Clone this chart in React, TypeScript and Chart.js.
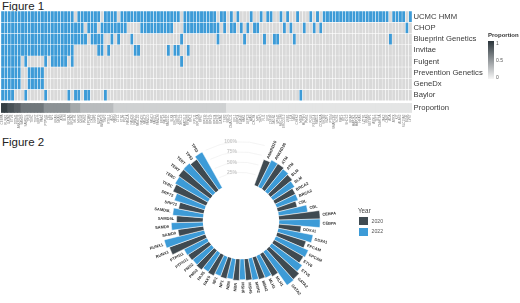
import React, { useEffect, useRef } from "react";
import { Chart, registerables } from "chart.js";

Chart.register(...registerables);

const FONT = "'Liberation Sans', Arial, sans-serif";
const BLUE = "#3d9bd7";
const GRAY = "#d9d9d9";
const DARK = "#3f4a51";

// ---------- Figure 1 data ----------
const labs = [
  "UCMC HMM",
  "CHOP",
  "Blueprint Genetics",
  "Invitae",
  "Fulgent",
  "Prevention Genetics",
  "GeneDx",
  "Baylor",
];

const panelGenes = [
  "CEBPA","RUNX1","GATA2","ETV6","DDX41","ANKRD26","SAMD9","SAMD9L","TP53","TERC",
  "TERT","SRP72","PAX5","PTPN11","CBL","NF1","KRAS","NRAS","ATM","BLM",
  "BRCA1","BRCA2","MLH1","MSH2","MSH6","PMS2","EPCAM","DKC1","NHP2","NOP10",
  "WRAP53","TINF2","RTEL1","ACD","PARN","CTC1","STN1","POT1","FANCA","FANCB",
  "FANCC","FANCD2","FANCE","FANCF","FANCG","FANCI","FANCL","FANCM","BRIP1","PALB2",
  "RAD51C","SLX4","ERCC4","UBE2T","XRCC2","MAD2L2","RFWD3","RPL5","RPL11","RPL35A",
  "RPS7","RPS10","RPS17","RPS19","RPS24","RPS26","GATA1","TSR2","SBDS","DNAJC21",
  "EFL1","SRP54","ELANE","HAX1","G6PC3","WAS","CXCR4","MPL","THPO","FLI1",
  "GFI1","CSF3R","JAGN1","VPS45","MECOM","ERCC6L2","USB1","LIG4","NBN","CHEK2",
  "MBD4","MUTYH","PMS1","POLE","RECQL4","RAD51","CDKN2A","SH2B3","IKZF1","PTEN",
  "SMARCB1","SOS1","RAF1","RIT1","SHOC2","BRAF","MAP2K1","MAP2K2","HRAS","LZTR1",
  "RRAS","SETBP1","ASXL1","TET2","DNMT3A","JAK2","CALR","ADA","ATRX","KIT",
  "ALAS2","SLC19A2","BLNK","LYST",
];

// column ranges (inclusive) where each lab's panel includes the gene
const ucmcHmm = [[0,21],[23,29],[31,34],[36,53],[55,64],[66,67],[69,69],[71,71],[75,75],[78,78],[80,81],[84,84],[86,86],[89,89],[93,93],[95,95],[97,116],[118,121],[123,123]];
const chop = [[0,24],[26,28],[30,37],[42,51],[55,65],[67,67],[69,70],[72,72],[74,74],[76,77],[85,85],[87,87],[91,91],[94,94],[96,96],[122,122]];
const blueprint = [[0,25],[27,30],[33,33],[35,35],[39,39],[54,54],[65,65],[73,73],[79,79],[82,83],[88,88],[117,117]];
const invitae = [[0,21],[29,30],[32,32],[40,41],[50,50],[52,53],[56,56]];
const fulgent = [[0,5],[7,7],[13,13],[15,19],[21,21],[54,54]];
const prevention = [[0,5],[8,12]];
const geneDx = [[0,5],[8,12]];
const baylor = [[0,3],[7,7],[13,13],[20,20],[22,23],[25,26],[31,31],[90,90]];
const labRanges = [ucmcHmm, chop, blueprint, invitae, fulgent, prevention, geneDx, baylor];

// proportion row, read per column from the picture
const proportion = [
  0.95,0.95,0.85,0.85,0.78,0.78,
  0.66,0.66,0.66,0.66,0.66,0.66,0.66,
  0.52,0.52,0.52,0.52,0.52,0.52,0.52,0.52,
  0.4,0.4,0.4,
  0.3,0.3,0.3,0.3,0.3,0.3,0.3,0.3,0.3,0.3,
  0.19,0.19,0.19,0.19,0.19,0.19,0.19,0.19,0.19,0.19,
  0.19,0.19,0.19,0.19,0.19,0.19,0.19,0.19,0.19,0.19,
  0.19,0.19,0.19,0.19,0.19,0.19,0.19,0.19,0.19,0.19,
  0.19,0.19,0.19,0.19,
  0.09,0.09,0.09,0.09,0.09,0.09,0.09,0.09,0.09,0.09,
  0.09,0.09,0.09,0.09,0.09,0.09,0.09,0.09,0.09,0.09,
  0.09,0.09,0.09,0.09,0.09,0.09,0.09,0.09,0.09,0.09,
  0.09,0.09,0.09,0.09,0.09,0.09,0.09,0.09,0.09,0.09,
  0.09,0.09,0.09,0.09,0.09,0.09,0.09,0.09,0.09,0.09,
  0.09,0.09,0.09,0.09,0.09,0.09,
];

// ---------- Figure 2 data ----------
const years = ["2020", "2022"];
const circGenes = [
  "ANKRD26","ATM","BLM","BRCA2","CBL","CEBPA","DDX41","EPCAM","ETV6","GATA2",
  "MLH1","MSH2","MSH6","NBN","NF1","PAX5","PMS2","PTPN11","RUNX1","SAMD9",
  "SAMD9L","SRP72","TERC","TERT","TP53",
];
const values2020 = [0.67,0.73,0.67,0.55,0.48,1.0,0.54,0.73,0.82,0.98,0.62,0.56,0.52,0.52,0.52,0.56,0.6,0.6,0.93,0.62,0.64,0.62,0.88,0.95,0.92];
const values2022 = [0.73,0.70,0.62,0.55,0.71,1.0,0.86,0.86,0.91,1.0,0.58,0.54,0.5,0.5,0.5,0.54,0.58,0.62,1.0,0.77,0.74,0.77,0.92,0.96,1.0];
const gapSlots = 8;
const radialTicks = [0.25, 0.5, 0.75, 1];

function mix(a: number[], b: number[], t: number) {
  const c = a.map((v, i) => Math.round(v + (b[i] - v) * t));
  return `rgb(${c[0]},${c[1]},${c[2]})`;
}
const LOW = [246, 246, 246];
const HIGH = [43, 53, 59];

export default function App() {
  const ref1 = useRef<HTMLCanvasElement>(null);
  const ref2 = useRef<HTMLCanvasElement>(null);

  useEffect(() => {
    const inRanges = (r: number[][], c: number) => r.some(([a, b]) => c >= a && c <= b);
    const rowTicks = [...labs.map((_, i) => i + 0.5), 8.65];
    const rowLabels = [...labs, "Proportion"];

    const heatSets: any[] = labRanges.map((ranges, r) => ({
      label: labs[r],
      data: panelGenes.map(() => [r, r + 1]),
      backgroundColor: panelGenes.map((_, c) => (inRanges(ranges, c) ? BLUE : GRAY)),
      borderColor: "#ffffff",
      borderWidth: 0.5,
      borderSkipped: false,
      grouped: false,
      categoryPercentage: 1,
      barPercentage: 1,
    }));
    heatSets.push({
      label: "Proportion",
      data: panelGenes.map(() => [8.25, 9.05]),
      backgroundColor: proportion.map((p) => mix(LOW, HIGH, p)),
      borderWidth: 0,
      grouped: false,
      categoryPercentage: 1,
      barPercentage: 1,
      inflateAmount: 0.4,
    });

    const c1 = new Chart(ref1.current!, {
      type: "bar",
      data: { labels: panelGenes, datasets: heatSets },
      options: {
        responsive: false,
        animation: false,
        events: [],
        layout: { padding: { left: 1, top: 11, right: 0, bottom: 0 } },
        plugins: { legend: { display: false }, tooltip: { enabled: false } },
        scales: {
          x: {
            type: "category",
            grid: { display: false, drawTicks: false },
            border: { display: false },
            ticks: {
              autoSkip: false,
              maxRotation: 90,
              minRotation: 90,
              padding: 1.5,
              color: "#7a7a7a",
              font: { family: FONT, size: 3 },
            },
            afterFit: (axis: any) => {
              axis.height = 22;
            },
          },
          y: {
            type: "linear",
            position: "right",
            reverse: true,
            min: 0,
            max: 9.1,
            grid: { display: false, drawTicks: false },
            border: { display: false },
            afterBuildTicks: (axis: any) => {
              axis.ticks = rowTicks.map((v) => ({ value: v }));
            },
            ticks: {
              autoSkip: false,
              padding: 1.5,
              color: "#3a3a3a",
              font: { family: FONT, size: 7.7 },
              callback: (_v: any, i: number) => rowLabels[i],
            },
            afterFit: (axis: any) => {
              axis.width = 108;
            },
          },
        },
      } as any,
    });

    // circular bar chart
    const polarLabels: string[] = [];
    const polarData: (number | null)[] = [];
    const polarColors: string[] = [];
    circGenes.forEach((g, i) => {
      polarLabels.push(g, g);
      polarData.push(values2020[i], values2022[i]);
      polarColors.push(DARK, BLUE);
    });
    for (let i = 0; i < gapSlots; i++) {
      polarLabels.push("");
      polarData.push(null);
      polarColors.push("rgba(0,0,0,0)");
    }

    const circlePlugin = {
      id: "circleDecor",
      afterDatasetsDraw(chart: any) {
        const ctx = chart.ctx;
        const scale = chart.scales.r;
        const cx = scale.xCenter;
        const cy = scale.yCenter;
        const r0 = scale.getDistanceFromCenterForValue(0);
        ctx.save();
        ctx.fillStyle = "#ffffff";
        ctx.beginPath();
        ctx.arc(cx, cy, r0, 0, Math.PI * 2);
        ctx.fill();

        const meta = chart.getDatasetMeta(0);
        const slot = (Math.PI * 2) / polarData.length;
        const first = meta.data[0].startAngle;
        const gapStart = first + slot * (polarData.length - gapSlots);
        const gapEnd = first + Math.PI * 2;
        ctx.strokeStyle = "#ececec";
        ctx.lineWidth = 0.6;
        radialTicks.forEach((v) => {
          const rr = scale.getDistanceFromCenterForValue(v);
          ctx.beginPath();
          ctx.arc(cx, cy, rr, gapStart + 0.05, gapEnd - 0.05);
          ctx.stroke();
        });
        ctx.fillStyle = "#c9c9c9";
        ctx.font = `bold 5px ${FONT}`;
        ctx.textAlign = "right";
        ctx.textBaseline = "middle";
        radialTicks.forEach((v) => {
          const rr = scale.getDistanceFromCenterForValue(v);
          ctx.fillText(`${Math.round(v * 100)}%`, cx - 4, cy - rr);
        });

        ctx.fillStyle = "#2f2f2f";
        ctx.font = `bold 4px ${FONT}`;
        ctx.textBaseline = "middle";
        meta.data.forEach((arc: any, i: number) => {
          if (polarData[i] == null) return;
          const mid = (arc.startAngle + arc.endAngle) / 2;
          const rr = arc.outerRadius + 2.5;
          const right = Math.cos(mid) >= 0;
          ctx.save();
          ctx.translate(cx + rr * Math.cos(mid), cy + rr * Math.sin(mid));
          ctx.rotate(right ? mid : mid + Math.PI);
          ctx.textAlign = right ? "left" : "right";
          ctx.fillText(polarLabels[i], 0, 0);
          ctx.restore();
        });
        ctx.restore();
      },
    };

    const c2 = new Chart(ref2.current!, {
      type: "polarArea",
      data: {
        labels: polarLabels,
        datasets: [
          {
            data: polarData,
            backgroundColor: polarColors,
            borderColor: "#ffffff",
            borderWidth: 0.5,
          },
        ],
      },
      options: {
        responsive: false,
        animation: false,
        events: [],
        layout: { padding: 0 },
        plugins: { legend: { display: false }, tooltip: { enabled: false } },
        scales: {
          r: {
            min: -0.939,
            max: 1.512,
            startAngle: 20.3,
            grid: { display: false },
            angleLines: { display: false },
            ticks: { display: false },
            pointLabels: { display: false },
          },
        },
      } as any,
      plugins: [circlePlugin],
    });

    return () => {
      c1.destroy();
      c2.destroy();
    };
  }, []);

  const txt: React.CSSProperties = { position: "absolute", whiteSpace: "nowrap", lineHeight: 1 };

  return (
    <div
      style={{
        position: "fixed",
        left: 0,
        top: 0,
        width: 520,
        height: 303,
        overflow: "hidden",
        background: "#ffffff",
        fontFamily: FONT,
      }}
    >
      <div style={{ ...txt, left: 2, top: 1, fontSize: 11.5, color: "#222" }}>Figure 1</div>
      <div style={{ ...txt, left: 2, top: 137, fontSize: 11.5, color: "#222" }}>Figure 2</div>
      <canvas ref={ref1} width={520} height={135} style={{ position: "absolute", left: 0, top: 0 }} />
      <canvas ref={ref2} width={201} height={201} style={{ position: "absolute", left: 141, top: 121 }} />

      {/* Proportion legend */}
      <div style={{ ...txt, left: 488, top: 31.5, fontSize: 6, fontWeight: "bold", color: "#333" }}>Proportion</div>
      <div
        style={{
          position: "absolute",
          left: 488,
          top: 41,
          width: 5.5,
          height: 38,
          background: `linear-gradient(to bottom, ${mix(LOW, HIGH, 1)}, ${mix(LOW, HIGH, 0)})`,
        }}
      />
      <div style={{ ...txt, left: 496, top: 40.5, fontSize: 5, color: "#555" }}>1</div>
      <div style={{ ...txt, left: 496, top: 57.5, fontSize: 5, color: "#555" }}>0.5</div>
      <div style={{ ...txt, left: 496, top: 74.5, fontSize: 5, color: "#555" }}>0</div>

      {/* Year legend */}
      <div style={{ ...txt, left: 358, top: 207.5, fontSize: 6.3, color: "#444" }}>Year</div>
      <div style={{ position: "absolute", left: 359, top: 217, width: 8.5, height: 8, background: DARK }} />
      <div style={{ position: "absolute", left: 359, top: 227.5, width: 8.5, height: 8, background: BLUE }} />
      <div style={{ ...txt, left: 371.5, top: 218.5, fontSize: 5.2, color: "#555" }}>{years[0]}</div>
      <div style={{ ...txt, left: 371.5, top: 229, fontSize: 5.2, color: "#555" }}>{years[1]}</div>
    </div>
  );
}
